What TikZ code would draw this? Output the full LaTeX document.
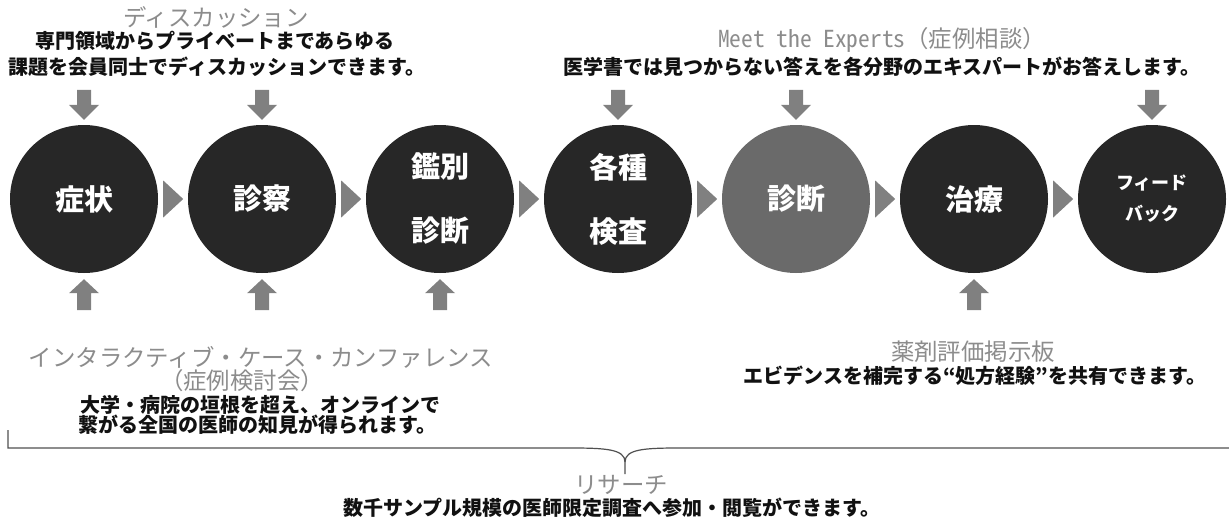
\documentclass[tikz,border=0pt]{standalone}
\usepackage{fontspec}
\setmainfont{Noto Sans CJK JP}
\newfontfamily\hwfont{Noto Sans CJK JP}[RawFeature=+hwid]
\usetikzlibrary{calc}
\definecolor{cdark}{HTML}{272727}
\definecolor{cgrey}{HTML}{6A6A6A}
\definecolor{carr}{HTML}{808080}
\definecolor{ctitle}{HTML}{8C8C8C}
\definecolor{cdesc}{HTML}{111111}
\definecolor{cbrace}{HTML}{505050}
\newcommand\mydownarrow[1]{\fill[arrfill] ($(#1.north)+(-7,-35)$) -- ($(#1.north)+(7,-35)$) -- ($(#1.north)+(7,-20)$) -- ($(#1.north)+(15,-20)$) -- ($(#1.north)+(0,-5)$) -- ($(#1.north)+(-15,-20)$) -- ($(#1.north)+(-7,-20)$) -- cycle;}
\newcommand\myuparrow[1]{\fill[arrfill] ($(#1.south)+(-7,37)$) -- ($(#1.south)+(7,37)$) -- ($(#1.south)+(7,20)$) -- ($(#1.south)+(15,20)$) -- ($(#1.south)+(0,6)$) -- ($(#1.south)+(-15,20)$) -- ($(#1.south)+(-7,20)$) -- cycle;}
\newcommand\mytri[1]{\fill[arrfill] ($(#1.east)+(5,-18.5)$) -- ($(#1.east)+(25,0)$) -- ($(#1.east)+(5,18.5)$) -- cycle;}
\begin{document}
\begin{tikzpicture}[x=1pt,y=-1pt,
  circ/.style={circle,fill=cdark,minimum size=148pt,inner sep=0pt,text=white,align=center,
    font=\bfseries\fontsize{29}{64}\selectfont},
  small/.style={font=\bfseries\fontsize{18}{31}\selectfont},
  arrfill/.style={fill=carr},
  title/.style={inner sep=0pt,text=ctitle,font=\fontsize{23.4}{26}\selectfont},
  desc/.style={inner sep=0pt,text=cdesc,font=\bfseries\fontsize{20}{22}\selectfont},
  bracec/.style={draw=cbrace,line width=1.2pt}]
\fill[white] (0,0) rectangle (1229,522);
\useasboundingbox (0,0) rectangle (1229,522);

\node[circ] (c1) at (84,199) {症状};
\node[circ] (c2) at (262,199) {診察};
\node[circ] (c3) at (440,199) {鑑別\\診断};
\node[circ] (c4) at (618,199) {各種\\検査};
\node[circ,fill=cgrey] (c5) at (796,199) {診断};
\node[circ] (c6) at (974,199) {治療};
\node[circ,small] (c7) at (1152,199) {フィード\\バック};

\mytri{c1}\mytri{c2}\mytri{c3}\mytri{c4}\mytri{c5}\mytri{c6}

\mydownarrow{c1}\mydownarrow{c2}\mydownarrow{c4}\mydownarrow{c5}\mydownarrow{c7}
\myuparrow{c1}\myuparrow{c2}\myuparrow{c3}\myuparrow{c6}

\node[title] (t1) at (216,17) {ディスカッション};
\node[desc] (d1) at (215,41) {専門領域からプライベートまであらゆる};
\node[desc] (d1b) at (217,67) {課題を会員同士でディスカッションできます。};

\node[title] (t2) at (882,40) {{\hwfont Meet the Experts}（症例相談）};
\node[desc] (d2) at (882,67) {医学書では見つからない答えを各分野のエキスパートがお答えします。};

\node[title] (t3) at (261,357) {インタラクティブ・ケース・カンファレンス};
\node[title] (t3b) at (242,381) {（症例検討会）};
\node[desc] (d3) at (260,405) {大学・病院の垣根を超え、オンラインで};
\node[desc] (d3b) at (257,425) {繋がる全国の医師の知見が得られます。};

\node[title] (t4) at (973,352) {薬剤評価掲示板};
\node[desc] (d4) at (975,376) {エビデンスを補完する“処方経験”を共有できます。};

\node[title] (t5) at (621,485) {リサーチ};
\node[desc] (d5) at (612,508) {数千サンプル規模の医師限定調査へ参加・閲覧ができます。};

\coordinate (bl) at (8,430);
\coordinate (blc) at (8,448);
\coordinate (bla) at (570,448);
\coordinate (bm) at (625,462);
\coordinate (btip) at (625,474);
\coordinate (bra) at (680,448);
\coordinate (brr) at (1229,448);
\draw[bracec] (bl) -- (blc) -- (bla) .. controls (605,448) and (625,449) .. (bm) -- (btip);
\draw[bracec] (brr) -- (bra) .. controls (645,448) and (625,449) .. (bm);
\end{tikzpicture}
\end{document}
